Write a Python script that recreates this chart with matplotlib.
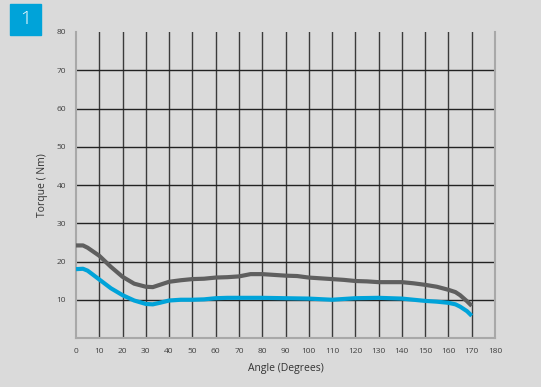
import matplotlib.pyplot as plt
from matplotlib.patches import Rectangle

plt.rcParams['font.family'] = ['Open Sans', 'DejaVu Sans']

# angle (degrees) and torque (Nm)
angle_upper = [0, 3, 5, 10, 15, 20, 25, 30, 33, 36, 40, 45, 50, 55, 60, 65, 70, 75, 80, 85,
               90, 95, 100, 105, 110, 115, 120, 125, 130, 135, 140, 145, 150, 155, 160, 163,
               165, 168, 170]
torque_upper = [24.2, 24.2, 23.6, 21.5, 18.6, 16.0, 14.2, 13.4, 13.3, 13.9, 14.7, 15.1, 15.4,
                15.5, 15.8, 15.9, 16.1, 16.7, 16.7, 16.5, 16.3, 16.2, 15.8, 15.6, 15.4, 15.2,
                14.9, 14.8, 14.6, 14.6, 14.6, 14.3, 13.9, 13.4, 12.6, 12.0, 11.2, 9.6, 8.4]

angle_lower = [0, 3, 5, 10, 15, 20, 25, 30, 33, 36, 40, 45, 50, 55, 60, 65, 70, 80, 90, 100,
               110, 120, 130, 140, 150, 155, 160, 163, 165, 168, 170]
torque_lower = [18.0, 18.1, 17.6, 15.3, 13.0, 11.2, 9.8, 8.9, 8.8, 9.2, 9.8, 10.0, 10.0, 10.1,
                10.4, 10.5, 10.5, 10.5, 10.4, 10.3, 10.0, 10.4, 10.5, 10.3, 9.7, 9.5, 9.2, 8.8,
                8.2, 7.0, 5.8]

x_ticks = list(range(0, 181, 10))
y_ticks = list(range(0, 81, 10))

fig = plt.figure(figsize=(5.41, 3.87), dpi=100, facecolor='#dadada')
ax = fig.add_axes([76 / 541, 1 - 338 / 387, (495 - 76) / 541, (338 - 32) / 387])
ax.set_facecolor('#dadada')

# grid lines
for x in x_ticks[1:-1]:
    ax.axvline(x, color='#3a3a3a', lw=1.0, zorder=1)
for y in y_ticks[1:-1]:
    ax.axhline(y, color='#222222', lw=1.0, zorder=1)

ax.plot(angle_upper, torque_upper, color='#5f5f5f', lw=3.0, solid_capstyle='butt', zorder=3)
ax.plot(angle_lower, torque_lower, color='#00a3d9', lw=3.0, solid_capstyle='butt', zorder=3)

ax.set_xlim(0, 180)
ax.set_ylim(0, 80)
ax.set_xticks(x_ticks)
ax.set_yticks(y_ticks)
ax.set_yticklabels([''] + [str(v) for v in y_ticks[1:]])
ax.tick_params(length=0, labelsize=6, colors='#404040', pad=7)

for side in ['left', 'right', 'bottom']:
    ax.spines[side].set_color('#a8a8a8')
    ax.spines[side].set_linewidth(1.5)
ax.spines['top'].set_visible(False)

ax.set_xlabel('Angle (Degrees)', fontsize=7.5, color='#333333', labelpad=6)
ax.set_ylabel('Torque ( Nm)', fontsize=7.5, color='#333333', labelpad=6)

# numbered badge top left
fig.patches.append(Rectangle((10 / 541, 1 - 35 / 387), 31 / 541, 31 / 387,
                             transform=fig.transFigure, color='#00a3d9', zorder=0))
fig.text(25.5 / 541, 1 - 19.5 / 387, '1', color='white', fontsize=14, fontweight='light',
         ha='center', va='center')

fig.savefig('out.png', dpi=100, facecolor=fig.get_facecolor())
